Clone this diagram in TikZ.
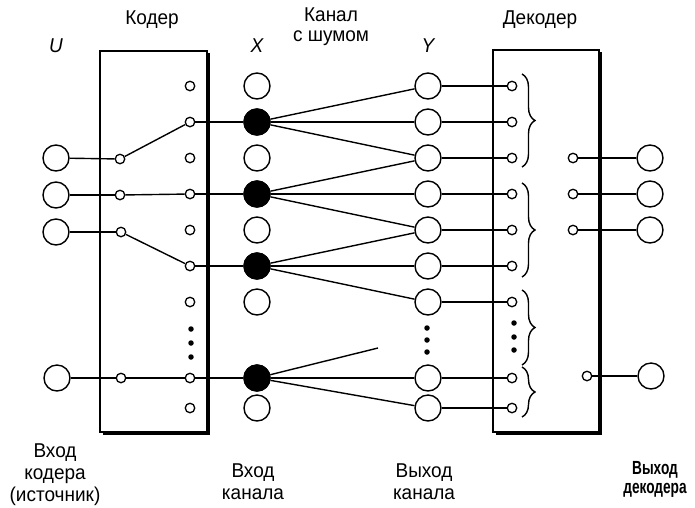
\documentclass[tikz,border=0pt]{standalone}
\usepackage{fontspec}
\setmainfont[FakeStretch=0.95]{Liberation Sans}
\newfontfamily\condbold[FakeStretch=0.72]{Liberation Sans Bold}
\usetikzlibrary{decorations.pathreplacing}
\begin{document}
\begin{tikzpicture}[x=1pt,y=-1pt,line width=1.4pt,
  big/.style={circle,draw,fill=white,minimum size=26pt,inner sep=0pt},
  bigf/.style={big,fill=black},
  sm/.style={circle,draw,fill=white,minimum size=9.5pt,inner sep=0pt,line width=1.3pt},
  dotn/.style={circle,fill=black,minimum size=5.5pt,inner sep=0pt},
  lab/.style={font=\fontsize{20}{20}\selectfont,align=center},
  blab/.style={font=\fontsize{20}{22}\selectfont,align=center},
  thickedge/.style={line width=3.5pt},
  br/.style={decorate,decoration={brace,amplitude=13pt},line width=1.4pt}]
\useasboundingbox (0,0) rectangle (695,507);
% boxes
\draw (100,51) rectangle (207,432);
\draw[thickedge] (208,53) -- (208,433) -- (103,433);
\draw (493,50) rectangle (599,432);
\draw[thickedge] (600,52) -- (600,433) -- (496,433);
% rows
\def\rA{86}\def\rB{122}\def\rC{158}\def\rD{194}\def\rE{230}\def\rF{266}\def\rG{302}\def\rH{378}\def\rI{408}
% U
\node[big] (u1) at (56,158) {};
\node[big] (u2) at (56,195) {};
\node[big] (u3) at (56,232) {};
\node[big] (u4) at (57,378) {};
% coder left small
\node[sm] (cl1) at (120,159) {};
\node[sm] (cl2) at (120,195) {};
\node[sm] (cl3) at (121,232) {};
\node[sm] (cl4) at (121,378) {};
% coder right small, X, Y, decoder left small
\foreach \i/\y in {0/\rA,1/\rB,2/\rC,3/\rD,4/\rE,5/\rF,6/\rG,7/\rH,8/\rI}{
  \node[sm] (cr\i) at (190,\y) {};
  \node[big] (x\i) at (257,\y) {};
  \node[big] (y\i) at (428,\y) {};
  \node[sm] (dl\i) at (512,\y) {};
}
\foreach \i in {1,3,5,7} \node[bigf] (xf\i) at (x\i) {};
% dots
\node[dotn] (cd1) at (191,329) {};
\node[dotn] (cd2) at (191,343) {};
\node[dotn] (cd3) at (191,357) {};
\node[dotn] (yd1) at (427,328) {};
\node[dotn] (yd2) at (427,340) {};
\node[dotn] (yd3) at (427,352) {};
\node[dotn] (dd1) at (514,323) {};
\node[dotn] (dd2) at (514,337) {};
\node[dotn] (dd3) at (514,350) {};
% decoder right small and outputs
\node[sm] (dr2) at (573,\rC) {};
\node[sm] (dr3) at (573,\rD) {};
\node[sm] (dr4) at (573,\rE) {};
\node[sm] (dr7) at (587,376) {};
\node[big] (o2) at (650,\rC) {};
\node[big] (o3) at (650,\rD) {};
\node[big] (o4) at (650,\rE) {};
\node[big] (o7) at (651,376) {};
\coordinate (free) at (378,348);
% connectors
\draw (u1) -- (cl1); \draw (u2) -- (cl2); \draw (u3) -- (cl3); \draw (u4) -- (cl4);
\draw (cl1) -- (cr1); \draw (cl2) -- (cr3); \draw (cl3) -- (cr5); \draw (cl4) -- (cr7);
\draw (cr1) -- (x1); \draw (cr3) -- (x3); \draw (cr5) -- (x5); \draw (cr7) -- (x7);
\draw (x1) -- (y0); \draw (x1) -- (y1); \draw (x1) -- (y2);
\draw (x3) -- (y2); \draw (x3) -- (y3); \draw (x3) -- (y4);
\draw (x5) -- (y4); \draw (x5) -- (y5); \draw (x5) -- (y6);
\draw (x7) -- (free); \draw (x7) -- (y7); \draw (x7) -- (y8);
\foreach \i in {0,...,8} \draw (y\i) -- (dl\i);
\draw (dr2) -- (o2); \draw (dr3) -- (o3); \draw (dr4) -- (o4); \draw (dr7) -- (o7);
% braces
\draw[br] (522,74) -- (522,167);
\draw[br] (522,183) -- (522,277);
\draw[br] (522,290) -- (522,365);
\draw[br] (522,367) -- (522,417);
% labels
\node[lab] (tU) at (56,46) {\itshape U};
\node[lab] (tX) at (257,46) {\itshape X};
\node[lab] (tY) at (428,46) {\itshape Y};
\node[lab] (tK) at (152,20) {Кодер};
\node[lab] (tC) at (331,27) {Канал\\с шумом};
\node[lab] (tD) at (540,20) {Декодер};
\node[blab] (b1) at (55,475) {Вход\\кодера\\(источник)};
\node[blab] (b2) at (253,482) {Вход\\канала};
\node[blab] (b3) at (424,482) {Выход\\канала};
\node[blab,font=\fontsize{19}{19}\selectfont\condbold] (b4) at (655,479) {Выход\\декодера};
\end{tikzpicture}
\end{document}
